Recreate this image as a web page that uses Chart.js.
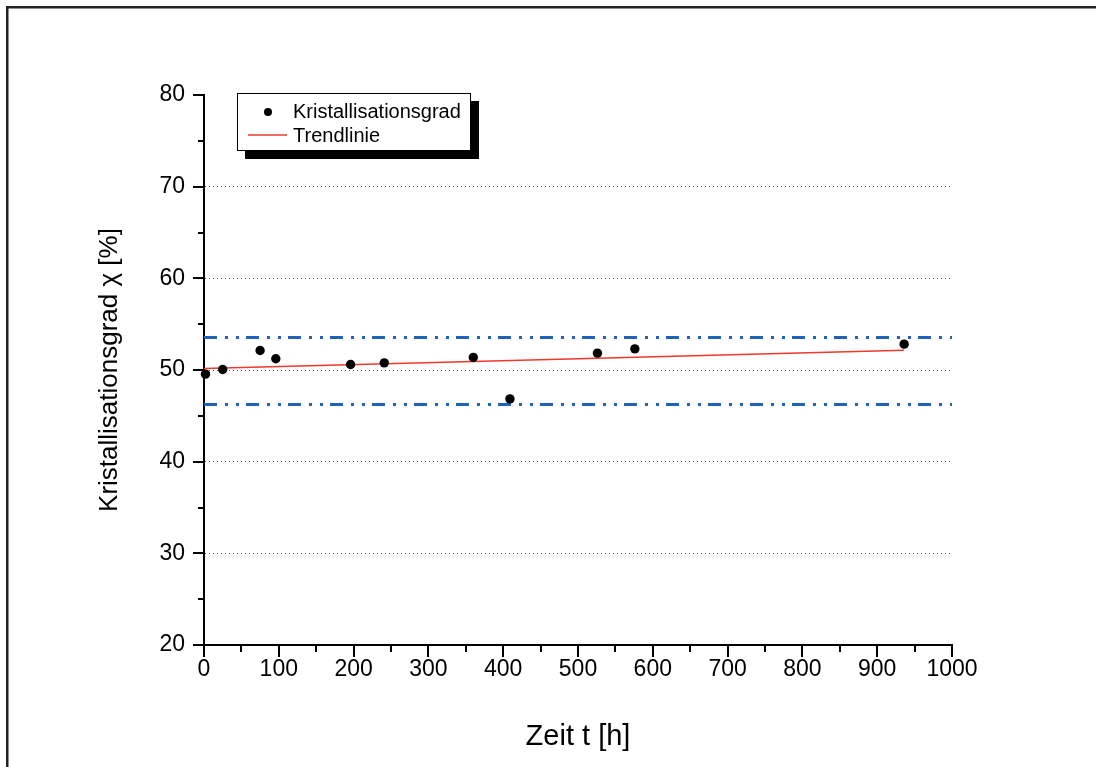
<!DOCTYPE html>
<html><head><meta charset="utf-8">
<script src="https://cdn.jsdelivr.net/npm/chart.js@4"></script>
<style>html,body{margin:0;padding:0;background:#fff}#wrap{width:1096px;height:767px;position:relative}</style>
</head><body><div id="wrap"><canvas id="c" width="1096" height="767"></canvas></div>
<script>
// ---- data ----
const timeH = [2, 25, 75, 96, 196, 241, 360, 409, 526, 576, 936];
const kristallisationsgrad = [49.55, 50.05, 52.13, 51.23, 50.6, 50.78, 51.37, 46.85, 51.84, 52.31, 52.82];
const trendX = [0, 936];
const trendY = [50.15, 52.16];
const limitX = [0, 1000];
const upperLimit = [53.55, 53.55];
const lowerLimit = [46.25, 46.25];
const xMajorTicks = [0, 100, 200, 300, 400, 500, 600, 700, 800, 900, 1000];
const xMinorTicks = [50, 150, 250, 350, 450, 550, 650, 750, 850, 950];
const yMajorTicks = [20, 30, 40, 50, 60, 70, 80];
const yMinorTicks = [25, 35, 45, 55, 65, 75];
const yGridValues = [30, 40, 50, 60, 70];
const seriesNames = ['Kristallisationsgrad', 'Trendlinie'];
const xTitle = 'Zeit t [h]';
const yTitle = 'Kristallisationsgrad \u03C7 [%]';

const FONT = "'Liberation Sans', Arial, sans-serif";
const pairs = (xs, ys) => xs.map((x, i) => ({x, y: ys[i]}));

const framePlugin = {
  id: 'frame',
  beforeDraw(chart) {
    const c = chart.ctx;
    c.save();
    c.fillStyle = '#fff';
    c.fillRect(0, 0, chart.width, chart.height);
    c.fillStyle = '#222';
    c.fillRect(6, 6, chart.width - 6, 2.5);
    c.fillRect(6, 6, 2.5, chart.height - 6);
    c.restore();
  }
};

const ticksPlugin = {
  id: 'ticksMarks',
  afterDraw(chart) {
    const c = chart.ctx, xs = chart.scales.x, ys = chart.scales.y;
    const a = chart.chartArea;
    c.save();
    c.strokeStyle = '#000';
    c.lineWidth = 2;
    c.beginPath();
    yMajorTicks.forEach(v => { const p = Math.round(ys.getPixelForValue(v)); c.moveTo(a.left - 11, p); c.lineTo(a.left, p); });
    yMinorTicks.forEach(v => { const p = Math.round(ys.getPixelForValue(v)); c.moveTo(a.left - 6, p); c.lineTo(a.left, p); });
    xMajorTicks.forEach(v => { const p = Math.round(xs.getPixelForValue(v)); c.moveTo(p, a.bottom); c.lineTo(p, a.bottom + 12); });
    xMinorTicks.forEach(v => { const p = Math.round(xs.getPixelForValue(v)); c.moveTo(p, a.bottom); c.lineTo(p, a.bottom + 7); });
    c.stroke();
    c.restore();
  }
};

const legendPlugin = {
  id: 'boxLegend',
  afterDraw(chart) {
    const c = chart.ctx;
    const L = 237, T = 93, W = 234, H = 58, S = 8;
    c.save();
    c.fillStyle = '#000';
    c.fillRect(L + S, T + S, W, H);
    c.fillStyle = '#fff';
    c.fillRect(L, T, W, H);
    c.strokeStyle = '#000';
    c.lineWidth = 1;
    c.strokeRect(L + 0.5, T + 0.5, W - 1, H - 1);
    c.fillStyle = '#000';
    c.beginPath(); c.arc(268, 112, 4, 0, Math.PI * 2); c.fill();
    c.strokeStyle = '#ee3a2a'; c.lineWidth = 1.5;
    c.beginPath(); c.moveTo(248, 135); c.lineTo(287, 135); c.stroke();
    c.fillStyle = '#000';
    c.font = '20px ' + FONT;
    c.textBaseline = 'middle';
    c.textAlign = 'left';
    c.fillText(seriesNames[0], 293, 112);
    c.fillText(seriesNames[1], 293, 136);
    c.restore();
  }
};

new Chart(document.getElementById('c'), {
  type: 'scatter',
  data: {
    datasets: [
      { label: seriesNames[0], data: pairs(timeH, kristallisationsgrad), backgroundColor: '#000', borderColor: '#000',
        pointRadius: 4.7, pointHoverRadius: 4.7, borderWidth: 0, clip: false, order: 0 },
      { label: seriesNames[1], type: 'line', data: pairs(trendX, trendY), borderColor: '#ee3a2a', borderWidth: 1.5,
        pointRadius: 0, fill: false, order: 1 },
      { label: 'upper', type: 'line', data: pairs(limitX, upperLimit), borderColor: '#2262b4', borderWidth: 3,
        borderDash: [13, 8, 3, 8, 3, 7], borderCapStyle: 'butt', pointRadius: 0, fill: false, order: 2 },
      { label: 'lower', type: 'line', data: pairs(limitX, lowerLimit), borderColor: '#2262b4', borderWidth: 3,
        borderDash: [13, 8, 3, 8, 3, 7], borderCapStyle: 'butt', pointRadius: 0, fill: false, order: 2 }
    ]
  },
  options: {
    responsive: false,
    animation: false,
    events: [],
    layout: { padding: { left: 0, right: 144, top: 95, bottom: 0 } },
    plugins: { legend: { display: false }, tooltip: { enabled: false } },
    scales: {
      x: {
        type: 'linear', min: 0, max: 1000,
        afterFit(s) { s.height = 122; },
        afterBuildTicks(s) { s.ticks = xMajorTicks.map(v => ({value: v})); },
        grid: { display: false, drawTicks: false },
        border: { display: true, color: '#000', width: 2 },
        ticks: { color: '#000', font: { family: FONT, size: 23 }, padding: 11, maxRotation: 0, autoSkip: false,
                 callback: v => String(v) },
        title: { display: true, text: xTitle, color: '#000', font: { family: FONT, size: 29 }, padding: { top: 0, bottom: 13 } }
      },
      y: {
        type: 'linear', min: 20, max: 80,
        afterFit(s) { s.width = 204; },
        afterBuildTicks(s) { s.ticks = yMajorTicks.map(v => ({value: v})); },
        grid: {
          drawTicks: false, lineWidth: 1,
          color: ctx => (ctx.tick && yGridValues.includes(ctx.tick.value)) ? '#555' : 'rgba(0,0,0,0)'
        },
        border: { display: true, color: '#000', width: 2, dash: [1, 3] },
        ticks: { color: '#000', font: { family: FONT, size: 23 }, padding: 19, autoSkip: false, callback: v => String(v) },
        title: { display: true, text: yTitle, color: '#000', font: { family: FONT, size: 26 }, padding: { top: 94, bottom: 0 } }
      }
    }
  },
  plugins: [framePlugin, ticksPlugin, legendPlugin]
});
</script>
</body></html>
